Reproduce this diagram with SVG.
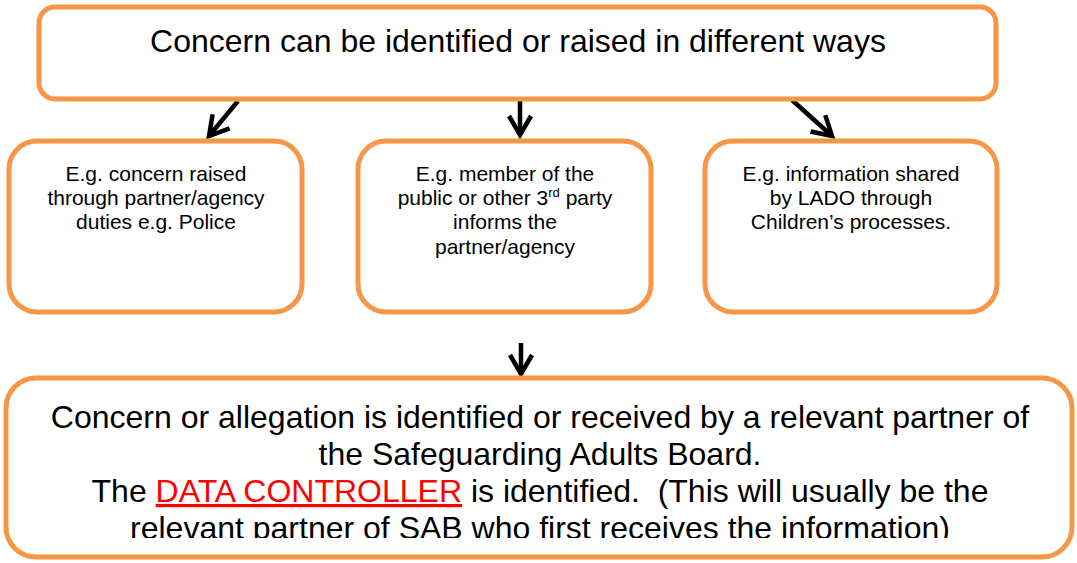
<svg xmlns="http://www.w3.org/2000/svg" width="1077" height="563" viewBox="0 0 1077 563">
  <style>
    .box { fill: #ffffff; stroke: #F79646; stroke-width: 5; }
    .big { font-family: "Liberation Sans", Arial, sans-serif; font-size: 32px; fill: #000000; text-anchor: middle; }
    .small { font-family: "Liberation Sans", Arial, sans-serif; font-size: 21px; fill: #000000; text-anchor: middle; }
    .conn { fill: none; stroke: #000000; stroke-width: 4.5; }
    .red { fill: #FF0000; }
  </style>
  <defs>
    <marker id="chevron" markerUnits="userSpaceOnUse" markerWidth="40" markerHeight="40" viewBox="-25 -20 30 40" refX="0" refY="0" orient="auto" overflow="visible">
      <path d="M -19 -11 L 0 0 L -19 11" fill="none" stroke="#000000" stroke-width="4.5" stroke-linejoin="miter"/>
    </marker>
    <clipPath id="bottomClip">
      <rect x="0" y="380" width="1077" height="158"/>
    </clipPath>
  </defs>

  <!-- connectors -->
  <g id="connectors">
    <path class="conn" d="M 238 101 L 209 136" marker-end="url(#chevron)"/>
    <path class="conn" d="M 520 100 L 520 135" marker-end="url(#chevron)"/>
    <path class="conn" d="M 792 100 L 832 136" marker-end="url(#chevron)"/>
    <path class="conn" d="M 521 343 L 521 374" marker-end="url(#chevron)"/>
  </g>

  <!-- top: how concerns arise -->
  <g id="node-top">
    <rect class="box" x="39" y="7" width="957" height="92" rx="16" ry="16"/>
    <text class="big" x="518" y="52">Concern can be identified or raised in different ways</text>
  </g>

  <g id="node-partner">
    <rect class="box" x="9" y="141" width="293" height="171" rx="28" ry="28"/>
    <text class="small" x="156" y="181">E.g. concern raised</text>
    <text class="small" x="156" y="205">through partner/agency</text>
    <text class="small" x="156" y="229">duties e.g. Police</text>
  </g>

  <g id="node-public">
    <rect class="box" x="358" y="141" width="293" height="171" rx="28" ry="28"/>
    <text class="small" x="505" y="181">E.g. member of the</text>
    <text class="small" x="505" y="205">public or other 3<tspan font-size="13" dy="-8">rd</tspan><tspan dy="8"> party</tspan></text>
    <text class="small" x="505" y="229">informs the</text>
    <text class="small" x="505" y="254">partner/agency</text>
  </g>

  <g id="node-lado">
    <rect class="box" x="705" y="141" width="292" height="171" rx="28" ry="28"/>
    <text class="small" x="851" y="181">E.g. information shared</text>
    <text class="small" x="851" y="205">by LADO through</text>
    <text class="small" x="851" y="229">Children’s processes.</text>
  </g>

  <!-- bottom: data controller -->
  <g id="node-controller">
    <rect class="box" x="6" y="378" width="1066" height="179" rx="30" ry="30"/>
    <g clip-path="url(#bottomClip)">
      <text class="big" x="540" y="428">Concern or allegation is identified or received by a relevant partner of</text>
      <text class="big" x="540" y="465">the Safeguarding Adults Board.</text>
      <text class="big" x="540" y="502" xml:space="preserve">The <tspan class="red" text-decoration="underline">DATA CONTROLLER</tspan> is identified.  (This will usually be the</text>
      <text class="big" x="540" y="539">relevant partner of SAB who first receives the information)</text>
    </g>
  </g>
</svg>
